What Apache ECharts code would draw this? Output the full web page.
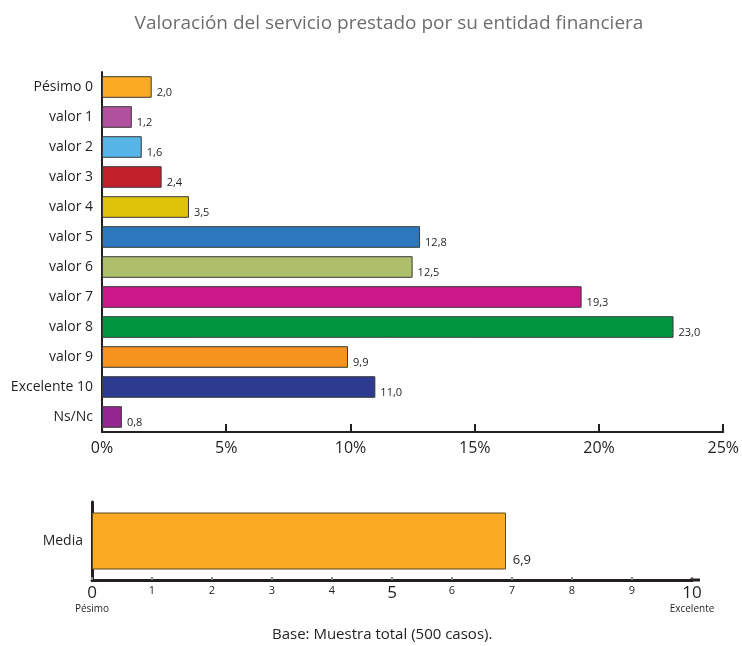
<!DOCTYPE html>
<html>
<head>
<meta charset="utf-8">
<script src="https://cdn.jsdelivr.net/npm/echarts@6/dist/echarts.min.js"></script>
<style>
  html, body { margin: 0; padding: 0; background: #ffffff; }
  #chart { width: 742px; height: 646px; }
</style>
</head>
<body>
<div id="chart"></div>
<script>
// Answer categories and share of respondents (%)
const categories = ['Pésimo 0', 'valor 1', 'valor 2', 'valor 3', 'valor 4', 'valor 5',
  'valor 6', 'valor 7', 'valor 8', 'valor 9', 'Excelente 10', 'Ns/Nc'];
const values = [2.0, 1.2, 1.6, 2.4, 3.5, 12.8, 12.5, 19.3, 23.0, 9.9, 11.0, 0.8];

// Average score on a 0-10 scale
const meanCategories = ['Media'];
const meanValues = [6.9];

// Tick labels
const pctTicks = ['0%', '5%', '10%', '15%', '20%', '25%'];
const scoreEndLabels = { 0: 'Pésimo', 10: 'Excelente' };

const barColors = ['#FBAA24', '#B1519E', '#56B4E6', '#C1202B', '#DEC30A', '#2B78BE',
  '#ADBF6A', '#CB178A', '#00963F', '#F6931F', '#2C3A8F', '#93278F'];

const FONT = 'Open Sans';
const DARK = '#231f20';
const comma = v => v.toFixed(1).replace('.', ',');

const chart = echarts.init(document.getElementById('chart'));
chart.setOption({
  animation: false,
  textStyle: { fontFamily: FONT },
  title: {
    text: 'Valoración del servicio prestado por su entidad financiera',
    left: 384, top: 9, textAlign: 'center',
    textStyle: { fontFamily: FONT, fontSize: 19, fontWeight: 'normal', color: '#6d6e71' }
  },
  graphic: [{
    type: 'text', left: 272, top: 627,
    style: { text: 'Base: Muestra total (500 casos).', fontFamily: FONT, fontSize: 15, fill: DARK }
  }, {
    // short run-out of the score axis past 10
    type: 'line', z: 10,
    shape: { x1: 690, y1: 580, x2: 700, y2: 580 },
    style: { stroke: DARK, lineWidth: 3 }
  }],
  grid: [
    { left: 102, top: 72, width: 622, height: 360, containLabel: false },
    { left: 92, top: 502, width: 600, height: 78, containLabel: false }
  ],
  xAxis: [{
    gridIndex: 0, type: 'value', min: 0, max: 25, interval: 5,
    axisLine: { show: true, lineStyle: { color: DARK, width: 2 } },
    axisTick: { show: true, inside: true, length: 8, lineStyle: { color: DARK, width: 2 } },
    splitLine: { show: false },
    axisLabel: {
      margin: 8, fontSize: 16, color: DARK, fontFamily: FONT,
      formatter: v => pctTicks[Math.round(v / 5)]
    }
  }, {
    gridIndex: 1, type: 'value', min: 0, max: 10, interval: 1,
    axisLine: { show: true, lineStyle: { color: DARK, width: 3 } },
    axisTick: { show: true, inside: true, length: 3, lineStyle: { color: '#888', width: 2 } },
    splitLine: { show: false },
    axisLabel: {
      margin: 4, color: DARK, fontFamily: FONT,
      formatter: v => {
        if (v === 0 || v === 10) return '{big|' + v + '}\n{small|' + scoreEndLabels[v] + '}';
        if (v === 5) return '{big|' + v + '}';
        return '{sm|' + v + '}';
      },
      rich: {
        big: { fontSize: 17, color: DARK, fontFamily: FONT, lineHeight: 18 },
        small: { fontSize: 10, color: DARK, fontFamily: FONT, lineHeight: 14 },
        sm: { fontSize: 11, color: DARK, fontFamily: FONT, lineHeight: 14 }
      }
    }
  }],
  yAxis: [{
    gridIndex: 0, type: 'category', data: categories, inverse: true,
    axisLine: { show: true, lineStyle: { color: DARK, width: 2 } },
    axisTick: { show: false },
    axisLabel: { margin: 9, fontSize: 14, color: DARK, fontFamily: FONT }
  }, {
    gridIndex: 1, type: 'category', data: meanCategories,
    axisLine: { show: true, lineStyle: { color: DARK, width: 3 } },
    axisTick: { show: false },
    axisLabel: { margin: 9, fontSize: 14, color: DARK, fontFamily: FONT }
  }],
  series: [{
    type: 'bar', xAxisIndex: 0, yAxisIndex: 0,
    data: values.map((v, i) => ({
      value: v,
      itemStyle: { color: barColors[i] }
    })),
    barCategoryGap: '28%',
    itemStyle: { borderColor: '#3a3a3a', borderWidth: 1 },
    label: {
      show: true, position: 'right', distance: 5, offset: [0, 6],
      fontSize: 11, color: DARK, fontFamily: FONT,
      formatter: p => comma(p.value)
    }
  }, {
    type: 'bar', xAxisIndex: 1, yAxisIndex: 1,
    data: meanValues,
    barWidth: 57,
    itemStyle: { color: '#FBAA24', borderColor: '#5a4a20', borderWidth: 1 },
    label: {
      show: true, position: 'insideBottomRight', offset: [30, 2],
      fontSize: 13, color: DARK, fontFamily: FONT,
      formatter: p => comma(p.value)
    }
  }]
});
</script>
</body>
</html>
